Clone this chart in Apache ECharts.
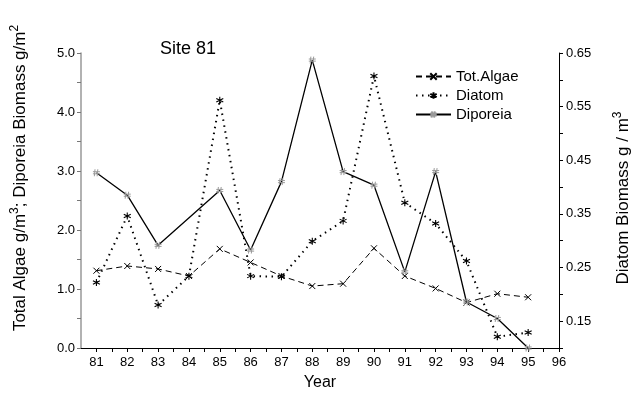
<!DOCTYPE html>
<html>
<head>
<meta charset="utf-8">
<script src="https://cdn.jsdelivr.net/npm/echarts@6/dist/echarts.min.js"></script>
<style>html,body{margin:0;padding:0;background:#fff}#c{width:637px;height:397px}</style>
</head>
<body>
<div id="c"></div>
<script>
var years = [81, 82, 83, 84, 85, 86, 87, 88, 89, 90, 91, 92, 93, 94, 95];
var totAlgae = [1.31, 1.39, 1.34, 1.22, 1.68, 1.45, 1.22, 1.05, 1.09, 1.69, 1.22, 1.01, 0.77, 0.92, 0.86];
var diatom = [0.222, 0.346, 0.180, 0.234, 0.562, 0.234, 0.233, 0.299, 0.337, 0.607, 0.371, 0.332, 0.262, 0.121, 0.129];
var diporeia = [2.97, 2.59, 1.74, null, 2.67, 1.66, 2.82, 4.88, 2.99, 2.76, 1.29, 2.99, 0.78, 0.50, 0.0];
var yearTicks = [81, 82, 83, 84, 85, 86, 87, 88, 89, 90, 91, 92, 93, 94, 95, 96];

function pairs(vals) { return years.map(function (y, i) { return [y, vals[i]]; }); }
var halfTicks = [];
for (var t = 81; t <= 96; t += 0.5) halfTicks.push(t);

var font = 'Liberation Sans, Arial, sans-serif';
var supRich = {
  n: { fontSize: 17, lineHeight: 23, fontFamily: font, color: '#000' },
  s: { fontSize: 12, verticalAlign: 'top', fontFamily: font, color: '#000' }
};
var chart = echarts.init(document.getElementById('c'));
chart.setOption({
  animation: false,
  textStyle: { fontFamily: font },
  grid: { left: 81, right: 78, top: 53, bottom: 49 },
  xAxis: {
    type: 'value', min: 80.5, max: 96,
    name: 'Year', nameLocation: 'middle', nameGap: 27,
    nameTextStyle: { fontSize: 16, color: '#000', fontFamily: font },
    axisLine: { lineStyle: { color: '#000', width: 1 } },
    axisTick: { show: true, customValues: halfTicks, length: 4, lineStyle: { color: '#000' } },
    axisLabel: { customValues: yearTicks, fontSize: 13, color: '#000', margin: 8, fontFamily: font },
    splitLine: { show: false }
  },
  yAxis: [{
    type: 'value', min: 0, max: 5, interval: 1,
    axisLine: { show: true, lineStyle: { color: '#999', width: 1.5 } },
    axisTick: { show: true, length: 4, lineStyle: { color: '#777' } },
    minorTick: { show: true, splitNumber: 2, length: 4, lineStyle: { color: '#777' } },
    axisLabel: { formatter: function (v) { return v.toFixed(1); }, fontSize: 13, color: '#000', margin: 6, fontFamily: font },
    splitLine: { show: false }
  }, {
    type: 'value', min: 0.1, max: 0.65, interval: 0.05, position: 'right',
    axisLine: { show: true, lineStyle: { color: '#000', width: 1 } },
    axisTick: { show: true, length: 4, inside: false, lineStyle: { color: '#000' } },
    axisLabel: {
      formatter: function (v) { var k = Math.round(v * 100); return (k % 10 === 5) ? (k / 100).toFixed(2) : ''; },
      fontSize: 13, color: '#000', margin: 7, fontFamily: font
    },
    splitLine: { show: false }
  }],
  legend: {
    orient: 'vertical', left: 410, top: 64, itemGap: 4,
    itemWidth: 35, itemHeight: 8,
    textStyle: { fontSize: 15, color: '#000', fontFamily: font },
    data: ['Tot.Algae', 'Diatom', 'Diporeia']
  },
  title: {
    text: 'Site 81', left: 155, top: 35,
    textStyle: { fontSize: 18, fontWeight: 'normal', color: '#000', fontFamily: font }
  },
  graphic: [{
    type: 'text', x: 20, y: 178, rotation: Math.PI / 2,
    style: { text: '{n|Total Algae g/m}{s|3}{n|; Diporeia Biomass g/m}{s|2}', rich: supRich, align: 'center', verticalAlign: 'middle' }
  }, {
    type: 'text', x: 623, y: 198, rotation: Math.PI / 2,
    style: { text: '{n|Diatom Biomass g / m}{s|3}', rich: supRich, align: 'center', verticalAlign: 'middle' }
  }],
  series: [{
    name: 'Tot.Algae', type: 'line', yAxisIndex: 0, data: pairs(totAlgae),
    symbol: 'path://M0,0L8,8M8,0L0,8', symbolSize: 6,
    itemStyle: { color: '#000', borderColor: '#000', borderWidth: 1 },
    lineStyle: { color: '#000', width: 1, type: [6, 4] }
  }, {
    name: 'Diatom', type: 'line', yAxisIndex: 1, data: pairs(diatom),
    symbol: 'path://M5,0L5,10M0.7,2.5L9.3,7.5M9.3,2.5L0.7,7.5', symbolSize: 7,
    itemStyle: { color: '#000', borderColor: '#000', borderWidth: 1.1 },
    lineStyle: { color: '#000', width: 2, type: [1.5, 4.5] }
  }, {
    name: 'Diporeia', type: 'line', yAxisIndex: 0, data: pairs(diporeia), connectNulls: true,
    symbol: 'path://M3,0L2,10M7,0L6,10M0,3.5L10,3.5M0,6.5L10,6.5', symbolSize: 7,
    itemStyle: { color: '#999', borderColor: '#999', borderWidth: 1 },
    lineStyle: { color: '#000', width: 1.3, type: 'solid' }
  }]
});
</script>
</body>
</html>
